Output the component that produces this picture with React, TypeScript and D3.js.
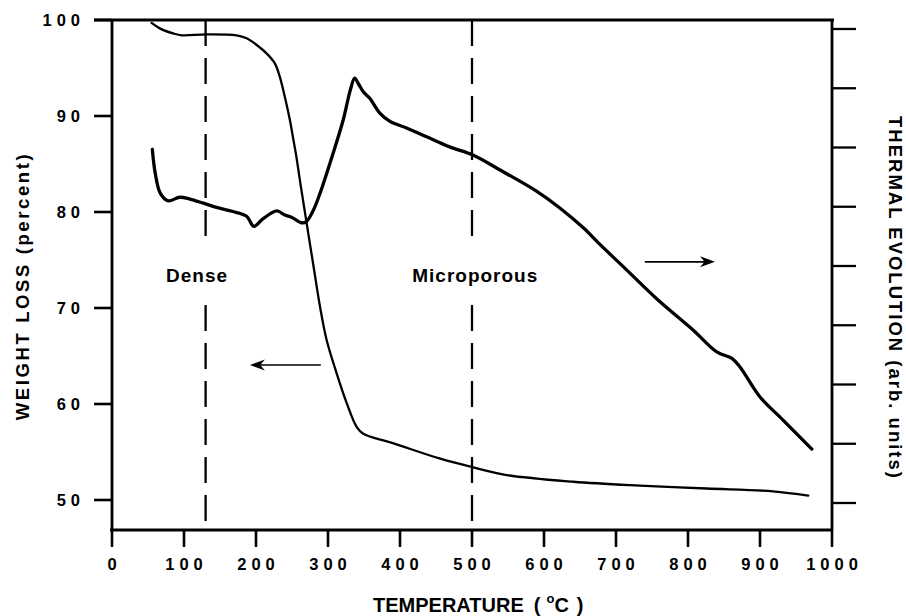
import React from 'react';
import * as d3 from 'd3';

// axis ticks
const tempTicks = [0, 100, 200, 300, 400, 500, 600, 700, 800, 900, 1000];
const weightTicks = [50, 60, 70, 80, 90, 100];
const thermalTicks = [0, 1, 2, 3, 4, 5, 6, 7, 8];

// weight loss (left axis)
const weightTemp = [55, 67, 85, 97, 131, 173, 187, 201, 215, 226, 233, 240, 247, 252, 256, 261, 270, 280, 289, 298, 312, 326, 340, 349, 391, 456, 502, 548, 641, 733, 826, 918, 967];
const weightPct = [99.7, 99.1, 98.6, 98.4, 98.5, 98.4, 98.1, 97.4, 96.5, 95.5, 94.1, 92.0, 89.6, 87.5, 85.8, 83.3, 79.0, 74.3, 70.1, 66.7, 63.2, 60.1, 57.6, 56.9, 55.9, 54.3, 53.4, 52.6, 51.9, 51.5, 51.2, 50.9, 50.45];

// thermal evolution (right axis, arb. units)
const thermalTemp = [56, 60, 67, 78, 94, 108, 127, 145, 168, 187, 197, 210, 229, 240, 250, 263, 270, 280, 289, 307, 321, 331, 337, 342, 349, 358, 372, 386, 409, 437, 469, 502, 539, 590, 622, 655, 678, 710, 758, 807, 840, 861, 872, 900, 932, 972];
const thermalSignal = [5.97, 5.57, 5.23, 5.10, 5.16, 5.13, 5.06, 4.99, 4.92, 4.84, 4.67, 4.80, 4.93, 4.86, 4.82, 4.73, 4.75, 4.95, 5.23, 5.90, 6.46, 6.97, 7.17, 7.08, 6.94, 6.83, 6.58, 6.44, 6.33, 6.18, 6.01, 5.87, 5.62, 5.26, 4.98, 4.64, 4.36, 3.99, 3.43, 2.92, 2.55, 2.44, 2.30, 1.79, 1.40, 0.91];

// region boundaries and labels
const regionTemps = [130, 500];
const regionNames = ['Dense', 'Microporous'];
const regionLabelTemps = [75, 417];

const FONT = '"Liberation Sans", Arial, Helvetica, sans-serif';

export default function App() {
  const x = d3.scaleLinear().domain([0, 1000]).range([112, 832]);
  const yL = d3.scaleLinear().domain([50, 100]).range([500, 20]);
  const yR = d3.scaleLinear().domain([0, 8]).range([503, 29]);

  const yBottom = yL(46.875);
  const yTop = yL(100);
  const x0 = x(0);
  const x1 = x(1000);

  const weightLine = d3.line<number>()
    .x((d, i) => x(weightTemp[i]))
    .y(d => yL(d))
    .curve(d3.curveCatmullRom.alpha(0.5));

  const thermalLine = d3.line<number>()
    .x((d, i) => x(thermalTemp[i]))
    .y(d => yR(d))
    .curve(d3.curveCatmullRom.alpha(0.5));

  // arrow helper
  const arrow = (xa: number, xb: number, y: number) => {
    const dir = xb > xa ? 1 : -1;
    const len = 15, hw = 5.5;
    const head = `M${xb},${y} L${xb - dir * len},${y - hw} L${xb - dir * len * 0.7},${y} L${xb - dir * len},${y + hw} Z`;
    return (
      <g>
        <line x1={xa} y1={y} x2={xb - dir * 8} y2={y} stroke="#000" strokeWidth={1.7} />
        <path d={head} fill="#000" />
      </g>
    );
  };

  const gapTop = 246, gapBottom = 305;

  return (
    <svg width={906} height={616} style={{ position: 'absolute', left: 0, top: 0, background: '#fff' }} fontFamily={FONT}>
      <rect width={906} height={616} fill="#fff" />

      {/* frame */}
      <line x1={94} y1={yTop} x2={x1 + 2} y2={yTop} stroke="#000" strokeWidth={2.8} />
      <line x1={x0} y1={yTop} x2={x0} y2={yBottom} stroke="#000" strokeWidth={2.8} />
      <line x1={x0 - 2} y1={yBottom} x2={x1} y2={yBottom} stroke="#000" strokeWidth={2.8} />
      <line x1={x1} y1={yTop} x2={x1} y2={yBottom} stroke="#000" strokeWidth={2.8} />

      {/* bottom ticks */}
      {tempTicks.map(t => (
        <g key={'t' + t}>
          <line x1={x(t)} y1={yBottom} x2={x(t)} y2={yBottom + 17} stroke="#000" strokeWidth={2.6} />
          <text x={x(t) + 2.5} y={570} textAnchor="middle" fontSize={16.5} fontWeight="bold" letterSpacing={5}>{t}</text>
        </g>
      ))}

      {/* left ticks */}
      {weightTicks.map(v => (
        <g key={'w' + v}>
          <line x1={94} y1={yL(v)} x2={x0} y2={yL(v)} stroke="#000" strokeWidth={2.6} />
          <text x={85} y={yL(v) + 6} textAnchor="end" fontSize={16.5} fontWeight="bold" letterSpacing={5}>{v}</text>
        </g>
      ))}

      {/* right ticks */}
      {thermalTicks.map(v => (
        <line key={'r' + v} x1={x1} y1={yR(v)} x2={x1 + 24} y2={yR(v)} stroke="#000" strokeWidth={2.3} />
      ))}

      {/* region boundaries */}
      {regionTemps.map(t => (
        <g key={'d' + t}>
          <line x1={x(t)} y1={yTop} x2={x(t)} y2={gapTop} stroke="#000" strokeWidth={2.3} strokeDasharray="26 12" />
          <line x1={x(t)} y1={gapBottom} x2={x(t)} y2={yBottom} stroke="#000" strokeWidth={2.3} strokeDasharray="26 12" />
        </g>
      ))}

      {regionNames.map((n, i) => (
        <text key={n} x={x(regionLabelTemps[i])} y={282} fontSize={19} fontWeight="bold" letterSpacing={1}>{n}</text>
      ))}

      {/* curves */}
      <path d={weightLine(weightPct) || ''} fill="none" stroke="#000" strokeWidth={2.3} strokeLinejoin="round" strokeLinecap="round" />
      <path d={thermalLine(thermalSignal) || ''} fill="none" stroke="#000" strokeWidth={3.3} strokeLinejoin="round" strokeLinecap="round" />

      {/* arrows */}
      {arrow(x(290), x(191.5), yL(64.06))}
      {arrow(x(740), x(837.5), yR(4.07))}

      {/* axis titles */}
      <text transform="translate(29,286) rotate(-90)" textAnchor="middle" fontSize={18.5} fontWeight="bold" letterSpacing={2.6}>WEIGHT LOSS (percent)</text>
      <text transform="translate(889,298) rotate(90)" textAnchor="middle" fontSize={18.5} fontWeight="bold" letterSpacing={2}>THERMAL EVOLUTION (arb. units)</text>
      <text x={373} y={612} fontSize={20} fontWeight="bold">
        TEMPERATURE
        <tspan dx={10}>(</tspan>
        <tspan fontSize={13} dx={6} dy={-9}>o</tspan>
        <tspan dy={9}>C</tspan>
        <tspan dx={8}>)</tspan>
      </text>
    </svg>
  );
}
